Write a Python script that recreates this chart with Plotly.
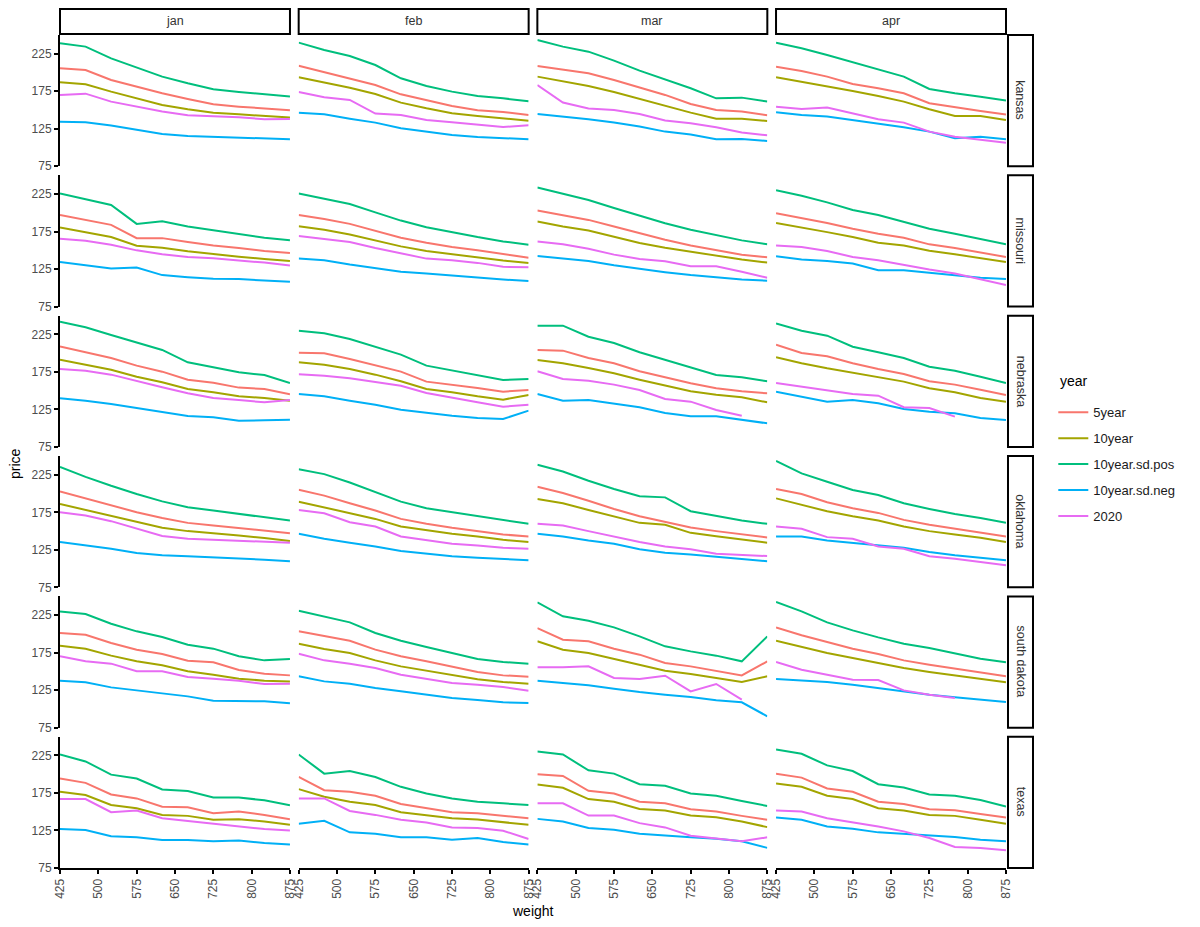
"""Feeder cattle price by weight, faceted by state and month."""

import plotly.graph_objects as go
from plotly.subplots import make_subplots

WEIGHTS = [425, 475, 525, 575, 625, 675, 725, 775, 825, 875]
MONTHS = ["jan", "feb", "mar", "apr"]
STATES = ["kansas", "missouri", "nebraska", "oklahoma", "south dakota", "texas"]
SERIES = ["5year", "10year", "10year.sd.pos", "10year.sd.neg", "2020"]
COLORS = ["#F8766D", "#A3A500", "#00BF7D", "#00B0F6", "#E76BF3"]
X_TICKS = [425, 500, 575, 650, 725, 800, 875]
Y_TICKS = [75, 125, 175, 225]

# each panel: rows in SERIES order (5year, 10year, sd.pos, sd.neg, 2020)
kansas_jan = [
    [205.6, 203.4, 190.1, 181.2, 172.3, 164.7, 157.6, 154.5, 151.9, 149.7],
    [186.9, 184.3, 174.5, 165.6, 156.7, 150.9, 146.5, 144.3, 142.1, 139.9],
    [238.9, 234.5, 218.9, 206.5, 194.5, 185.6, 177.6, 174.1, 171.0, 167.9],
    [134.5, 133.6, 129.2, 123.9, 118.1, 115.4, 114.5, 113.2, 112.3, 111.0],
    [170.1, 171.8, 161.2, 154.5, 147.9, 143.0, 142.1, 140.3, 137.7, 138.1],
]
kansas_feb = [
    [209.1, 200.3, 192.3, 183.4, 170.9, 163.4, 155.4, 149.6, 147.4, 143.4],
    [193.6, 186.5, 179.8, 171.4, 159.8, 152.3, 145.6, 142.1, 139.0, 135.8],
    [239.8, 230.0, 222.0, 210.0, 192.3, 182.0, 174.5, 168.7, 165.6, 161.6],
    [146.5, 144.3, 138.5, 133.2, 125.6, 120.7, 116.7, 114.1, 112.3, 111.0],
    [174.0, 166.9, 163.4, 145.2, 143.4, 136.7, 133.6, 130.1, 127.4, 129.6],
]
kansas_mar = [
    [208.7, 204.3, 199.0, 190.1, 180.3, 170.1, 158.0, 150.1, 147.9, 143.0],
    [194.5, 187.8, 182.0, 174.1, 164.7, 155.4, 146.5, 138.5, 138.5, 135.4],
    [243.4, 234.5, 227.8, 215.8, 202.5, 190.9, 179.0, 165.6, 166.5, 161.2],
    [144.7, 141.2, 137.6, 133.2, 127.9, 121.2, 117.2, 111.0, 111.4, 108.8],
    [183.4, 159.9, 151.9, 150.1, 144.7, 135.9, 132.3, 127.0, 119.9, 116.3],
]
kansas_apr = [
    [207.8, 202.1, 194.5, 184.7, 179.0, 172.3, 159.0, 153.6, 148.7, 143.9],
    [193.6, 187.8, 182.0, 175.4, 168.7, 161.2, 150.9, 142.1, 142.1, 136.7],
    [239.8, 232.3, 223.4, 213.6, 204.3, 194.5, 178.0, 172.3, 167.8, 162.5],
    [147.0, 143.4, 141.2, 136.7, 132.3, 127.0, 121.2, 112.3, 114.5, 111.0],
    [154.5, 151.4, 153.2, 145.6, 137.6, 133.2, 121.2, 114.5, 110.1, 106.5],
]
missouri_jan = [
    [197.2, 190.6, 184.0, 166.3, 166.3, 161.1, 156.6, 153.1, 149.1, 146.5],
    [180.5, 174.3, 167.7, 156.2, 153.6, 148.7, 144.7, 141.6, 138.6, 135.9],
    [225.9, 218.4, 210.4, 185.3, 188.8, 181.8, 176.5, 171.2, 166.8, 163.3],
    [134.6, 130.2, 125.8, 127.1, 117.0, 114.3, 112.1, 111.7, 109.9, 108.1],
    [165.5, 162.8, 157.5, 150.0, 144.7, 141.2, 139.4, 136.8, 133.7, 129.7],
]
missouri_feb = [
    [197.2, 191.9, 185.3, 176.5, 166.8, 160.2, 154.4, 150.0, 144.7, 140.3],
    [182.2, 177.4, 171.2, 163.3, 155.3, 149.1, 144.7, 140.3, 136.4, 133.3],
    [225.9, 219.3, 211.8, 200.7, 189.7, 180.9, 173.8, 167.7, 161.9, 157.5],
    [139.0, 136.8, 131.1, 126.2, 121.4, 119.2, 116.1, 113.9, 111.2, 109.0],
    [169.0, 165.5, 161.1, 153.1, 146.5, 139.0, 136.8, 133.3, 128.0, 127.5],
]
missouri_mar = [
    [203.0, 196.3, 190.6, 181.8, 173.0, 164.1, 156.6, 150.0, 144.3, 140.8],
    [188.4, 181.8, 176.5, 167.7, 159.7, 153.6, 148.3, 142.5, 137.7, 133.7],
    [233.8, 225.0, 217.1, 206.5, 196.3, 186.2, 177.4, 169.9, 163.3, 158.0],
    [142.5, 139.0, 135.9, 130.2, 125.3, 120.9, 117.0, 113.9, 111.2, 109.5],
    [161.9, 158.0, 152.2, 144.3, 138.6, 135.5, 128.9, 128.9, 121.4, 113.4],
]
missouri_apr = [
    [199.4, 193.2, 186.6, 178.7, 172.1, 166.8, 158.0, 153.1, 146.9, 141.2],
    [186.6, 180.9, 174.3, 167.7, 160.2, 156.6, 149.6, 144.7, 139.4, 134.6],
    [230.3, 222.8, 214.0, 203.8, 197.2, 187.5, 178.7, 172.1, 165.5, 158.0],
    [142.1, 137.7, 135.9, 132.4, 123.6, 123.6, 120.0, 117.0, 113.4, 111.7],
    [156.6, 154.4, 149.1, 141.2, 136.8, 130.2, 124.5, 119.2, 111.2, 103.7],
]
nebraska_jan = [
    [209.1, 201.2, 193.6, 183.4, 175.4, 164.7, 160.7, 154.1, 152.3, 145.2],
    [191.4, 184.7, 178.0, 168.7, 161.2, 152.3, 147.9, 142.5, 140.3, 136.7],
    [242.0, 234.5, 224.3, 214.5, 204.3, 187.8, 181.2, 174.5, 170.9, 160.3],
    [139.8, 136.7, 132.3, 127.0, 122.1, 116.3, 114.5, 110.1, 110.5, 111.4],
    [178.9, 176.7, 171.4, 162.5, 154.5, 146.5, 140.3, 137.6, 134.5, 137.6],
]
nebraska_feb = [
    [200.7, 199.8, 192.3, 184.3, 175.4, 162.1, 158.1, 153.6, 148.7, 151.0],
    [187.8, 184.7, 178.9, 171.4, 162.5, 152.3, 147.9, 142.5, 138.1, 144.3],
    [230.0, 226.5, 218.9, 208.7, 198.1, 183.4, 176.7, 170.9, 164.3, 165.6],
    [145.6, 142.5, 136.7, 131.4, 124.7, 120.3, 116.7, 113.6, 112.3, 123.4],
    [171.8, 170.0, 166.5, 162.1, 156.7, 146.9, 141.2, 134.5, 128.7, 131.4],
]
nebraska_mar = [
    [204.3, 203.4, 193.6, 186.5, 175.9, 167.9, 159.9, 153.2, 149.2, 146.5],
    [190.9, 186.5, 180.3, 173.2, 164.7, 156.7, 149.2, 144.7, 141.2, 134.5],
    [236.7, 236.7, 222.0, 213.6, 201.2, 190.9, 180.3, 171.0, 167.9, 162.5],
    [145.6, 136.7, 137.6, 132.3, 127.9, 120.3, 115.9, 115.9, 111.4, 106.5],
    [175.9, 165.6, 163.4, 158.1, 151.0, 139.0, 135.4, 124.3, 116.7, None],
]
nebraska_apr = [
    [211.4, 200.3, 195.8, 186.5, 179.0, 172.3, 162.5, 158.1, 151.4, 144.3],
    [194.5, 186.5, 179.8, 173.6, 167.9, 162.1, 153.2, 147.9, 140.3, 135.4],
    [239.8, 230.0, 223.4, 208.7, 201.2, 193.6, 182.0, 176.7, 168.7, 160.3],
    [148.7, 142.1, 135.4, 137.6, 133.2, 125.6, 122.1, 119.9, 113.6, 111.0],
    [160.3, 155.4, 150.1, 145.6, 143.4, 127.9, 127.0, 115.4, None, None],
]
oklahoma_jan = [
    [202.9, 193.6, 183.9, 175.1, 167.5, 160.9, 157.4, 154.3, 150.7, 147.2],
    [186.1, 178.2, 170.7, 161.8, 154.3, 149.9, 147.2, 144.1, 140.6, 136.6],
    [235.6, 222.3, 210.4, 199.4, 189.6, 181.7, 177.3, 172.8, 168.4, 164.0],
    [135.3, 130.9, 126.4, 120.7, 117.6, 116.3, 114.9, 113.2, 111.8, 109.6],
    [175.1, 170.7, 163.2, 153.0, 143.3, 139.8, 138.4, 137.5, 136.6, 134.4],
]
oklahoma_feb = [
    [205.1, 197.2, 187.0, 177.3, 166.2, 159.6, 154.3, 149.9, 145.4, 142.8],
    [189.2, 181.7, 174.2, 166.2, 156.0, 150.7, 146.3, 142.8, 138.4, 135.3],
    [232.5, 225.9, 214.8, 201.6, 189.2, 180.4, 175.1, 169.8, 164.0, 159.6],
    [146.3, 139.7, 134.4, 129.5, 123.3, 119.8, 116.3, 114.5, 112.7, 111.0],
    [178.1, 173.7, 161.8, 156.0, 142.8, 137.5, 133.1, 130.9, 127.8, 126.4],
]
oklahoma_mar = [
    [209.1, 200.7, 190.5, 179.5, 169.8, 161.8, 154.8, 149.9, 145.4, 141.5],
    [192.7, 187.0, 178.1, 169.3, 160.9, 158.3, 147.6, 143.2, 138.4, 134.4],
    [238.3, 229.4, 217.0, 206.0, 196.3, 194.9, 176.4, 170.6, 164.0, 159.6],
    [146.3, 142.8, 137.5, 133.1, 125.6, 121.1, 118.9, 115.4, 112.7, 109.6],
    [159.6, 157.4, 149.9, 142.8, 135.3, 129.5, 125.6, 119.8, 118.5, 116.7],
]
oklahoma_apr = [
    [206.0, 199.4, 188.3, 180.4, 174.2, 164.9, 158.3, 153.0, 147.6, 142.8],
    [193.6, 184.8, 176.4, 169.8, 164.0, 156.0, 149.9, 145.4, 141.0, 135.3],
    [243.6, 226.8, 215.7, 204.7, 198.0, 187.0, 179.5, 172.8, 167.5, 160.9],
    [142.8, 142.8, 137.5, 134.4, 130.9, 127.8, 122.0, 117.6, 114.5, 111.0],
    [156.0, 153.0, 141.9, 139.7, 129.5, 126.4, 116.3, 113.2, 108.8, 104.3],
]
south_dakota_jan = [
    [201.2, 198.9, 187.8, 178.9, 173.2, 164.3, 162.1, 151.9, 147.0, 144.7],
    [184.3, 180.3, 171.0, 163.4, 158.1, 150.1, 145.6, 140.3, 137.6, 136.7],
    [230.0, 226.5, 213.6, 203.4, 195.8, 185.6, 180.3, 170.1, 164.7, 166.5],
    [137.6, 135.4, 128.7, 124.7, 121.2, 116.7, 111.0, 110.1, 110.1, 107.4],
    [170.1, 163.4, 160.3, 150.1, 150.1, 142.5, 140.3, 137.6, 133.2, 133.6],
]
south_dakota_feb = [
    [203.4, 196.7, 190.9, 179.0, 170.1, 163.4, 156.3, 149.2, 144.7, 143.0],
    [186.9, 179.8, 174.5, 164.7, 156.7, 150.9, 144.7, 139.4, 135.8, 133.6],
    [230.9, 223.4, 215.4, 201.2, 190.9, 182.5, 174.5, 166.5, 162.5, 160.3],
    [143.4, 136.7, 133.6, 127.9, 123.4, 119.0, 114.5, 111.9, 108.8, 107.9],
    [173.6, 164.7, 160.3, 154.5, 145.6, 140.3, 134.5, 132.3, 129.2, 124.3],
]
south_dakota_mar = [
    [207.8, 192.3, 190.1, 180.3, 172.3, 161.2, 156.7, 150.9, 144.7, 163.4],
    [190.1, 178.9, 174.5, 167.0, 159.0, 151.0, 146.5, 141.2, 135.9, 143.4],
    [242.0, 223.4, 217.6, 208.7, 196.7, 183.4, 176.7, 171.0, 163.4, 196.7],
    [137.6, 134.5, 131.4, 127.0, 122.5, 119.0, 115.9, 111.4, 108.8, 90.1],
    [155.4, 155.4, 156.7, 141.2, 139.8, 144.3, 123.4, 133.2, 112.3, None],
]
south_dakota_apr = [
    [208.7, 198.1, 189.2, 180.3, 173.2, 164.7, 159.0, 153.6, 148.7, 143.4],
    [190.9, 182.5, 174.5, 167.9, 161.2, 154.5, 149.2, 144.3, 139.9, 135.4],
    [242.5, 230.0, 215.4, 204.7, 195.4, 186.9, 181.2, 174.5, 167.0, 162.1],
    [139.8, 137.6, 135.9, 132.3, 127.9, 122.5, 119.0, 115.4, 112.7, 109.2],
    [162.5, 152.3, 145.6, 139.0, 138.5, 124.7, 119.0, 114.5, None, None],
]
texas_jan = [
    [194.2, 188.5, 173.1, 167.8, 156.8, 155.9, 148.0, 150.2, 145.8, 140.1],
    [176.6, 172.2, 159.0, 154.6, 145.8, 144.5, 139.2, 140.1, 137.0, 132.6],
    [226.3, 217.1, 199.5, 194.2, 179.7, 177.5, 169.1, 169.1, 165.2, 158.6],
    [126.9, 125.6, 117.2, 115.9, 112.4, 112.4, 110.6, 111.5, 108.4, 106.2],
    [166.9, 166.9, 149.3, 151.5, 141.4, 137.9, 133.5, 130.4, 126.9, 125.1],
]
texas_feb = [
    [196.4, 178.8, 176.6, 171.3, 160.3, 154.6, 149.3, 148.0, 144.9, 141.4],
    [180.1, 170.0, 163.4, 159.0, 149.3, 145.8, 141.4, 139.6, 136.1, 132.6],
    [226.3, 200.8, 204.3, 196.4, 183.2, 174.4, 167.8, 163.4, 161.2, 159.0],
    [133.9, 137.9, 122.5, 120.7, 115.9, 115.9, 112.8, 115.0, 109.7, 106.2],
    [167.8, 167.8, 151.1, 145.8, 139.2, 135.7, 129.1, 128.2, 124.7, 113.7],
]
texas_mar = [
    [199.9, 197.7, 177.9, 174.4, 163.4, 161.2, 153.3, 150.2, 144.5, 139.2],
    [186.3, 181.9, 166.9, 163.4, 153.7, 151.5, 144.9, 142.7, 137.0, 129.5],
    [230.3, 226.3, 205.2, 200.8, 186.7, 184.5, 174.4, 171.3, 164.3, 157.7],
    [140.5, 137.0, 128.2, 126.0, 120.7, 118.1, 115.9, 114.1, 110.6, 101.8],
    [161.2, 161.2, 144.9, 144.9, 134.8, 129.1, 118.1, 114.1, 110.6, 115.9],
]
texas_apr = [
    [200.8, 195.5, 181.0, 176.6, 163.4, 160.3, 153.3, 152.0, 147.1, 142.3],
    [187.6, 183.2, 171.3, 166.9, 154.6, 151.5, 145.8, 144.5, 139.2, 133.9],
    [232.9, 227.2, 211.8, 204.3, 186.7, 182.3, 173.1, 171.3, 165.6, 156.8],
    [142.3, 139.2, 130.4, 127.3, 122.5, 120.7, 118.1, 116.3, 112.8, 110.6],
    [151.5, 150.2, 141.4, 136.1, 130.4, 123.8, 115.0, 103.1, 101.8, 98.7],
]

PANELS = {
    "kansas": [kansas_jan, kansas_feb, kansas_mar, kansas_apr],
    "missouri": [missouri_jan, missouri_feb, missouri_mar, missouri_apr],
    "nebraska": [nebraska_jan, nebraska_feb, nebraska_mar, nebraska_apr],
    "oklahoma": [oklahoma_jan, oklahoma_feb, oklahoma_mar, oklahoma_apr],
    "south dakota": [
        south_dakota_jan,
        south_dakota_feb,
        south_dakota_mar,
        south_dakota_apr,
    ],
    "texas": [texas_jan, texas_feb, texas_mar, texas_apr],
}

FONT = "Liberation Sans, Arial, Helvetica, sans-serif"
PANEL_W = 230.0
PANEL_H = 131.25

fig = make_subplots(
    rows=len(STATES),
    cols=len(MONTHS),
    horizontal_spacing=0.0092,
    vertical_spacing=0.0109,
)

for r, state in enumerate(STATES, start=1):
    for c, month in enumerate(MONTHS, start=1):
        panel = PANELS[state][c - 1]
        for k, name in enumerate(SERIES):
            fig.add_trace(
                go.Scatter(
                    x=WEIGHTS,
                    y=panel[k],
                    mode="lines",
                    name=name,
                    legendgroup=name,
                    showlegend=(r == 1 and c == 1),
                    line={"color": COLORS[k], "width": 2},
                    connectgaps=False,
                ),
                row=r,
                col=c,
            )

# axes: ggplot-like classic theme, labels only on outer panels
for r in range(1, len(STATES) + 1):
    for c in range(1, len(MONTHS) + 1):
        bottom = r == len(STATES)
        left = c == 1
        fig.update_xaxes(
            range=[425, 875],
            tickvals=X_TICKS,
            showticklabels=bottom,
            ticks="outside" if bottom else "",
            ticklen=4,
            tickwidth=1.5,
            tickcolor="black",
            tickangle=-90,
            tickfont={"size": 12, "color": "#4D4D4D", "family": FONT},
            showline=bottom,
            linecolor="black",
            linewidth=2,
            showgrid=False,
            zeroline=False,
            row=r,
            col=c,
        )
        fig.update_yaxes(
            range=[75, 250],
            tickvals=Y_TICKS,
            showticklabels=left,
            ticks="outside" if left else "",
            ticklen=4,
            tickwidth=1.5,
            tickcolor="black",
            tickfont={"size": 12, "color": "#4D4D4D", "family": FONT},
            showline=left,
            linecolor="black",
            linewidth=2,
            showgrid=False,
            zeroline=False,
            row=r,
            col=c,
        )

# facet strips: months on top, states on the right
for c, month in enumerate(MONTHS, start=1):
    xr, yr = f"x{c if c > 1 else ''} domain", f"y{c if c > 1 else ''} domain"
    fig.add_shape(
        type="rect",
        xref=xr,
        yref=yr,
        x0=0,
        x1=1,
        y0=1 + 1 / PANEL_H,
        y1=1 + 26 / PANEL_H,
        line={"color": "black", "width": 2},
        fillcolor="white",
    )
    fig.add_annotation(
        xref=xr,
        yref=yr,
        x=0.5,
        y=1 + 13.5 / PANEL_H,
        xanchor="center",
        yanchor="middle",
        text=month,
        showarrow=False,
        font={"size": 12.5, "color": "#333333", "family": FONT},
    )

for r, state in enumerate(STATES, start=1):
    idx = (r - 1) * len(MONTHS) + len(MONTHS)
    xr, yr = f"x{idx} domain", f"y{idx} domain"
    fig.add_shape(
        type="rect",
        xref=xr,
        yref=yr,
        x0=1 + 2 / PANEL_W,
        x1=1 + 27 / PANEL_W,
        y0=0,
        y1=1,
        line={"color": "black", "width": 2},
        fillcolor="white",
    )
    fig.add_annotation(
        xref=xr,
        yref=yr,
        x=1 + 14.5 / PANEL_W,
        y=0.5,
        xanchor="center",
        yanchor="middle",
        text=state,
        textangle=90,
        showarrow=False,
        font={"size": 12.5, "color": "#333333", "family": FONT},
    )

# axis titles
fig.add_annotation(
    xref="paper",
    yref="paper",
    x=-0.0475,
    y=0.485,
    xanchor="center",
    yanchor="middle",
    text="price",
    textangle=-90,
    showarrow=False,
    font={"size": 14, "color": "black", "family": FONT},
)
fig.add_annotation(
    xref="paper",
    yref="paper",
    x=0.5,
    y=-0.052,
    xanchor="center",
    yanchor="middle",
    text="weight",
    showarrow=False,
    font={"size": 14, "color": "black", "family": FONT},
)

# legend title placed by hand so the gap to the first key matches
fig.add_annotation(
    xref="paper",
    yref="paper",
    x=1.055,
    y=0.5846,
    xanchor="left",
    yanchor="middle",
    text="year",
    showarrow=False,
    font={"size": 14, "color": "black", "family": FONT},
)

# page body adds an 8px margin, so the figure is sized to fit inside it
fig.update_layout(
    width=1184,
    height=911,
    margin={"l": 52, "r": 184, "t": 27, "b": 51},
    plot_bgcolor="white",
    paper_bgcolor="white",
    font={"family": FONT},
    legend={
        "font": {"size": 13, "color": "#1A1A1A"},
        "x": 1.05,
        "xanchor": "left",
        "y": 0.565,
        "yanchor": "top",
        "tracegroupgap": 6,
        "bgcolor": "rgba(0,0,0,0)",
    },
)

fig.write_html("out.html")
